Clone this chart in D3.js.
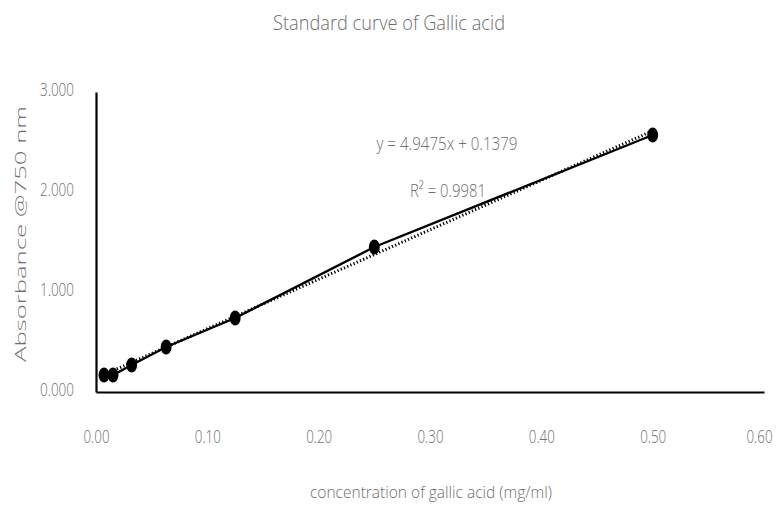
<!DOCTYPE html>
<html>
<head>
<meta charset="utf-8">
<script src="https://cdn.jsdelivr.net/npm/d3@7/dist/d3.min.js"></script>
<style>
  html, body { margin: 0; padding: 0; background: #ffffff; }
  svg { display: block; }
  text { font-family: "Open Sans", "Noto Sans", sans-serif; font-weight: 300; fill: #6e6e6e; }
</style>
</head>
<body>
<script>
// Gallic acid standard: concentration (mg/ml) vs absorbance at 750 nm
const concentrations = [0.0072, 0.0153, 0.032, 0.063, 0.125, 0.25, 0.5];
const absorbance = [0.17, 0.17, 0.27, 0.45, 0.74, 1.45, 2.57];
const xTicks = [0, 0.1, 0.2, 0.3, 0.4, 0.5, 0.6];
const yTicks = [0, 1, 2, 3];
const trendSlope = 4.9475;
const trendIntercept = 0.1379;
const rSquared = 0.9981;

const W = 779, H = 508;
const svg = d3.select("body").append("svg").attr("width", W).attr("height", H);

const x = d3.scaleLinear().domain([0, 0.6]).range([96, 764]);
const y = d3.scaleLinear().domain([0, 3]).range([392, 92]);

// condensed horizontal text: fix width with textLength
function fit(sel, len) {
  sel.attr("textLength", len).attr("lengthAdjust", "spacingAndGlyphs");
}

// x axis
const gx = svg.append("g").attr("transform", `translate(0,${y(0)})`)
  .call(d3.axisBottom(x).tickValues(xTicks).tickFormat(d3.format(".2f"))
    .tickSize(0).tickPadding(38));
gx.select(".domain").attr("stroke", "#000").attr("stroke-width", 2.2);
gx.selectAll(".tick text").attr("font-size", 19).attr("fill", "#6e6e6e")
  .attr("dx", d => (d === 0.6 ? -5 : 0))
  .each(function () { fit(d3.select(this), 26); });

// y axis
const gy = svg.append("g").attr("transform", `translate(${x(0)},0)`)
  .call(d3.axisLeft(y).tickValues(yTicks).tickFormat(d3.format(".3f"))
    .tickSize(0).tickPadding(22));
gy.select(".domain").attr("stroke", "#000").attr("stroke-width", 2.2);
gy.selectAll(".tick text").attr("font-size", 19).attr("fill", "#6e6e6e")
  .attr("dy", "0.2em")
  .each(function () { fit(d3.select(this), 34); });

// linear trendline (dotted) over the data range
const xMin = d3.min(concentrations), xMax = d3.max(concentrations);
svg.append("line")
  .attr("x1", x(xMin)).attr("y1", y(trendSlope * xMin + trendIntercept))
  .attr("x2", x(xMax)).attr("y2", y(trendSlope * xMax + trendIntercept))
  .attr("stroke", "#000").attr("stroke-width", 3)
  .attr("stroke-dasharray", "1.3,2.2");

// measured series
const pts = concentrations.map((c, i) => [c, absorbance[i]]);
svg.append("path")
  .attr("d", d3.line().x(d => x(d[0])).y(d => y(d[1]))(pts))
  .attr("fill", "none").attr("stroke", "#000").attr("stroke-width", 2.4);
svg.selectAll("ellipse.pt").data(pts).join("ellipse")
  .attr("class", "pt")
  .attr("cx", d => x(d[0])).attr("cy", d => y(d[1]))
  .attr("rx", 5.5).attr("ry", 7.5).attr("fill", "#000");

// title
const title = svg.append("text").attr("x", 389).attr("y", 30)
  .attr("text-anchor", "middle").attr("font-size", 20)
  .text("Standard curve of Gallic acid");
fit(title, 232);

// trendline equation and R²
const eq = svg.append("text").attr("x", 447).attr("y", 150)
  .attr("text-anchor", "middle").attr("font-size", 19)
  .text(`y = ${trendSlope}x + ${trendIntercept}`);
fit(eq, 141);
const r2 = svg.append("text").attr("x", 448).attr("y", 197)
  .attr("text-anchor", "middle").attr("font-size", 19)
  .text(`R² = ${rSquared}`);
fit(r2, 76);

// x axis title
const xt = svg.append("text").attr("x", 431).attr("y", 498)
  .attr("text-anchor", "middle").attr("font-size", 17)
  .text("concentration of gallic acid (mg/ml)");
fit(xt, 242);

// y axis title (rotated)
const yt = svg.append("text")
  .attr("transform", "translate(26,234) scale(0.8,1) rotate(-90)")
  .attr("text-anchor", "middle").attr("font-size", 18).attr("fill", "#858585")
  .text("Absorbance @750 nm");
fit(yt, 256);
</script>
</body>
</html>
